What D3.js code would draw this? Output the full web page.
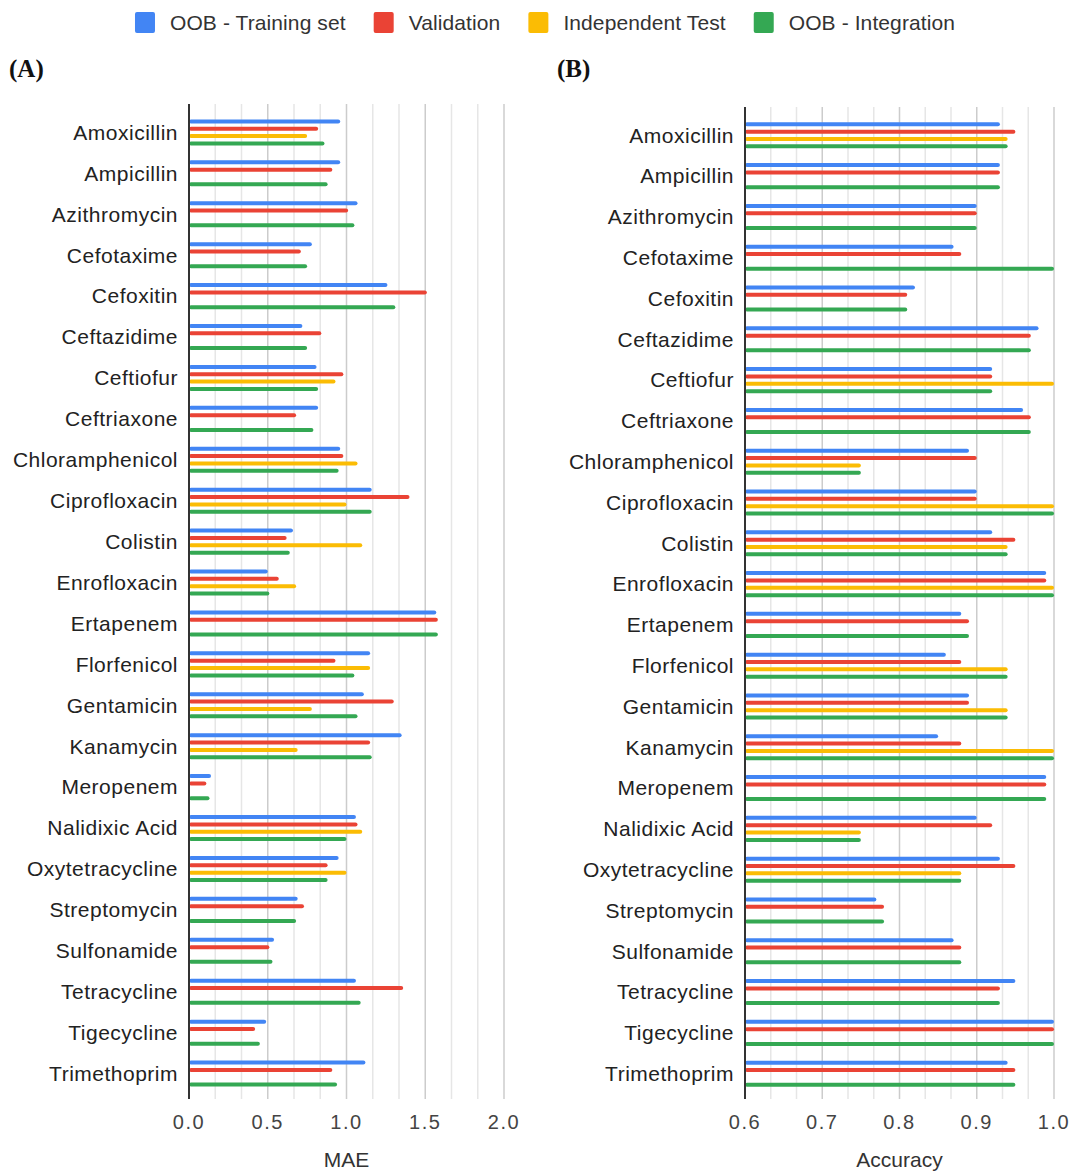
<!DOCTYPE html>
<html>
<head>
<meta charset="utf-8">
<script src="https://cdn.jsdelivr.net/npm/d3@7"></script>
<style>
  body { margin: 0; background: #fff; }
  text { font-family: Arial, "Liberation Sans", sans-serif; }
</style>
</head>
<body>
<svg id="chart" width="1074" height="1172"></svg>
<script>
// categories (antibiotics)
const drugs = ["Amoxicillin", "Ampicillin", "Azithromycin", "Cefotaxime", "Cefoxitin",
  "Ceftazidime", "Ceftiofur", "Ceftriaxone", "Chloramphenicol", "Ciprofloxacin",
  "Colistin", "Enrofloxacin", "Ertapenem", "Florfenicol", "Gentamicin", "Kanamycin",
  "Meropenem", "Nalidixic Acid", "Oxytetracycline", "Streptomycin", "Sulfonamide",
  "Tetracycline", "Tigecycline", "Trimethoprim"];

const seriesNames = ["OOB - Training set", "Validation", "Independent Test", "OOB - Integration"];
const colors = ["#4285f4", "#ea4335", "#fbbc04", "#34a853"];

// panel A - MAE
const maeTrain = [0.96, 0.96, 1.07, 0.78, 1.26, 0.72, 0.81, 0.82, 0.96, 1.16, 0.66, 0.50,
  1.57, 1.15, 1.11, 1.35, 0.14, 1.06, 0.95, 0.69, 0.54, 1.06, 0.49, 1.12];
const maeValid = [0.82, 0.91, 1.01, 0.71, 1.51, 0.84, 0.98, 0.68, 0.98, 1.40, 0.62, 0.57,
  1.58, 0.93, 1.30, 1.15, 0.11, 1.07, 0.88, 0.73, 0.51, 1.36, 0.42, 0.91];
const maeTest = [0.75, null, null, null, null, null, 0.93, null, 1.07, 1.00, 1.10, 0.68,
  null, 1.15, 0.78, 0.69, null, 1.10, 1.00, null, null, null, null, null];
const maeInteg = [0.86, 0.88, 1.05, 0.75, 1.31, 0.75, 0.82, 0.79, 0.95, 1.16, 0.64, 0.51,
  1.58, 1.05, 1.07, 1.16, 0.13, 1.00, 0.88, 0.68, 0.53, 1.09, 0.45, 0.94];
const maeTicks = [0, 0.5, 1.0, 1.5, 2.0];

// panel B - Accuracy
const accTrain = [0.93, 0.93, 0.90, 0.87, 0.82, 0.98, 0.92, 0.96, 0.89, 0.90, 0.92, 0.99,
  0.88, 0.86, 0.89, 0.85, 0.99, 0.90, 0.93, 0.77, 0.87, 0.95, 1.00, 0.94];
const accValid = [0.95, 0.93, 0.90, 0.88, 0.81, 0.97, 0.92, 0.97, 0.90, 0.90, 0.95, 0.99,
  0.89, 0.88, 0.89, 0.88, 0.99, 0.92, 0.95, 0.78, 0.88, 0.93, 1.00, 0.95];
const accTest = [0.94, null, null, null, null, null, 1.00, null, 0.75, 1.00, 0.94, 1.00,
  null, 0.94, 0.94, 1.00, null, 0.75, 0.88, null, null, null, null, null];
const accInteg = [0.94, 0.93, 0.90, 1.00, 0.81, 0.97, 0.92, 0.97, 0.75, 1.00, 0.94, 1.00,
  0.89, 0.94, 0.94, 1.00, 0.99, 0.75, 0.88, 0.78, 0.88, 0.93, 1.00, 0.95];
const accTicks = [0.6, 0.7, 0.8, 0.9, 1.0];

const svg = d3.select("#chart");

// legend
const legend = svg.append("g");
let lx = 0;
seriesNames.forEach(function (name, i) {
  const item = legend.append("g").attr("transform", "translate(" + lx + ",0)");
  item.append("rect").attr("x", 0).attr("y", 12).attr("width", 20).attr("height", 21)
    .attr("rx", 2).attr("fill", colors[i]);
  const t = item.append("text").attr("x", 35).attr("y", 29.5)
    .style("font-size", "21px").style("letter-spacing", "0.1px").attr("fill", "#333").text(name);
  lx += 35 + t.node().getComputedTextLength() + 28;
});
lx -= 28;
legend.attr("transform", "translate(" + (545 - lx / 2) + ",0)");

function panel(opts) {
  const g = svg.append("g");
  const x = d3.scaleLinear().domain(opts.domain).range([opts.left, opts.right]);
  const y = d3.scaleBand().domain(drugs)
    .range([opts.top + 1.5, opts.bottom + 1.5]).paddingOuter(0.158);
  const sub = d3.scaleBand().domain(d3.range(4)).range([-14.7, 14.7]);

  // minor gridlines (two between each tick)
  const step = opts.ticks[1] - opts.ticks[0];
  const minor = [];
  for (let i = 0; i < opts.ticks.length - 1; i++) {
    minor.push(opts.ticks[i] + step / 3, opts.ticks[i] + 2 * step / 3);
  }
  g.selectAll(".minor").data(minor).enter().append("line")
    .attr("x1", x).attr("x2", x).attr("y1", opts.top).attr("y2", opts.bottom)
    .attr("stroke", "#e6e6e6").attr("stroke-width", 1.5);
  g.selectAll(".major").data(opts.ticks.slice(1)).enter().append("line")
    .attr("x1", x).attr("x2", x).attr("y1", opts.top).attr("y2", opts.bottom)
    .attr("stroke", "#cccccc").attr("stroke-width", 1.5);

  // bars
  opts.series.forEach(function (vals, si) {
    g.append("g").selectAll("rect")
      .data(drugs.map(function (d, i) { return { drug: d, v: vals[i] }; })
        .filter(function (d) { return d.v != null; }))
      .enter().append("rect")
      .attr("x", x(opts.domain[0]))
      .attr("y", function (d) { return y(d.drug) + y.bandwidth() / 2 + sub(si) + sub.bandwidth() / 2 - 2; })
      .attr("width", function (d) { return x(d.v) - x(opts.domain[0]); })
      .attr("height", 4).attr("rx", 2)
      .attr("fill", colors[si]);
  });

  // baseline
  g.append("line").attr("x1", x(opts.domain[0])).attr("x2", x(opts.domain[0]))
    .attr("y1", opts.top).attr("y2", opts.bottom)
    .attr("stroke", "#333").attr("stroke-width", 2);

  // category labels
  g.selectAll(".cat").data(drugs).enter().append("text")
    .attr("x", opts.left - 11)
    .attr("y", function (d) { return y(d) + y.bandwidth() / 2; })
    .attr("dy", "0.35em").attr("text-anchor", "end")
    .style("font-size", "21px").style("letter-spacing", "0.5px").attr("fill", "#222")
    .text(function (d) { return d; });

  // tick labels
  g.selectAll(".tick").data(opts.ticks).enter().append("text")
    .attr("x", x).attr("y", 1129).attr("text-anchor", "middle")
    .style("font-size", "20px").style("letter-spacing", "1.5px").attr("fill", "#444")
    .text(d3.format(".1f"));

  // axis title
  g.append("text").attr("x", (opts.left + opts.right) / 2).attr("y", 1167)
    .attr("text-anchor", "middle").style("font-size", "21px").attr("fill", "#333")
    .text(opts.title);

  // panel letter
  g.append("text").attr("x", opts.letterX).attr("y", 77)
    .style("font-family", "'Liberation Serif', 'Times New Roman', serif")
    .style("font-size", "25px").style("font-weight", "bold").attr("fill", "#111")
    .text(opts.letter);
}

panel({
  domain: [0, 2], ticks: maeTicks, left: 189, right: 504, top: 104, bottom: 1099,
  series: [maeTrain, maeValid, maeTest, maeInteg], title: "MAE", letter: "(A)", letterX: 9
});
panel({
  domain: [0.6, 1.0], ticks: accTicks, left: 745, right: 1054, top: 107, bottom: 1099,
  series: [accTrain, accValid, accTest, accInteg], title: "Accuracy", letter: "(B)", letterX: 557
});
</script>
</body>
</html>
